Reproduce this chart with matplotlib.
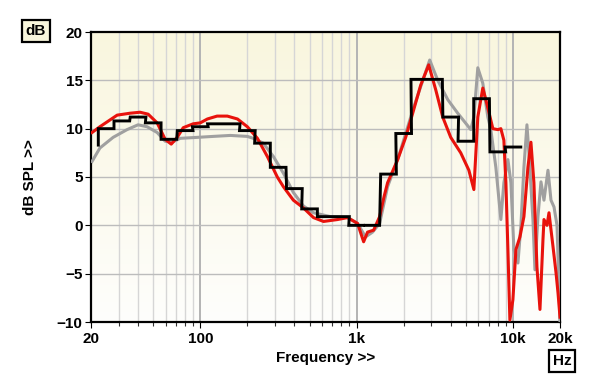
import numpy as np
import matplotlib
matplotlib.use("Agg")
import matplotlib.pyplot as plt
from matplotlib.colors import LinearSegmentedColormap

plt.rcParams['font.family'] = ['Liberation Sans', 'DejaVu Sans']

# ---- data ----
red_f = [20.3, 22.8, 29.4, 35.6, 41.2, 46.4, 53, 59.6, 65.2, 71.2, 77.8, 90, 100, 111, 128, 149, 173, 200,
         232, 269, 311, 340, 394, 457, 530, 614, 755, 875, 1014, 1109, 1175, 1285, 1404, 1500, 1578, 1831,
         2060, 2285, 2570, 2892, 3210, 3556, 4000, 4635, 5225, 5625, 5960, 6415, 6709, 7440, 8008, 8370,
         8750, 9013, 9285, 9560, 9995, 10450, 11085, 11755, 12470, 13035, 13620, 14240, 14890, 15560,
         15795, 16510, 17005, 18040, 18860, 19425, 20000]
red_db = [9.6, 10.2, 11.4, 11.6, 11.7, 11.5, 10.6, 8.9, 8.4, 9.1, 10.1, 10.5, 10.6, 11.0, 11.3, 11.3, 11.0, 10.2,
          9.0, 7.1, 5.0, 4.0, 2.6, 1.8, 0.8, 0.4, 0.6, 0.8, 0.2, -1.7, -0.7, -0.5, 0.9, 3.0, 4.4, 6.8,
          9.1, 11.6, 14.5, 16.6, 14.0, 11.2, 9.1, 7.5, 5.7, 3.7, 11.2, 14.2, 13.0, 10.0, 9.9, 10.0,
          8.8, 4.4, -2.5, -9.8, -7.7, -2.5, -1.2, 0.9, 6.0, 8.6, 4.4, -4.3, -8.7, -1.5,
          0.6, 0.0, 1.3, -2.2, -4.9, -7.0, -9.5]

gray_f = [20.3, 22.8, 27.7, 34, 40, 45.7, 53, 59.6, 66, 74.4, 95.6, 121, 155.6, 200, 218, 253, 294, 340,
          394, 457, 530, 681, 875, 1014, 1141, 1265, 1404, 1578, 1831, 2318, 2935, 3305, 3830, 4435,
          5375, 5625, 5960, 6415, 6910, 7222, 7775, 8370, 8750, 9285, 9706, 10145, 10765, 11247, 11755,
          12290, 12655, 13425, 13825, 14455, 15110, 15795, 16755, 17515, 18310, 19140, 19700, 20000]
gray_db = [6.6, 8.0, 9.1, 9.9, 10.4, 10.2, 9.6, 8.7, 8.6, 9.0, 9.1, 9.2, 9.3, 9.2, 9.0, 8.5, 7.1, 5.4,
           3.4, 2.0, 1.3, 0.9, 0.8, 0.2, -1.2, -0.7, 0.2, 4.0, 6.8, 12.2, 17.1, 15.0, 13.0, 11.6,
           9.9, 11.2, 16.3, 14.7, 11.2, 9.9, 6.0, 0.6, 4.4, 6.8, 4.4, -2.5, -3.9, 0.0, 6.0,
           10.4, 7.5, 0.6, -4.6, 0.9, 4.5, 2.6, 5.7, 2.6, 1.9, 0.0, -6.4, -10.0]

band_centers = [25, 31.5, 40, 50, 63, 80, 100, 125, 160, 200, 250, 315, 400, 500, 630, 800,
                1000, 1250, 1600, 2000, 2500, 3150, 4000, 5000, 6300, 8000, 10000]
band_db = [10.0, 10.8, 11.2, 10.6, 8.9, 9.8, 10.2, 10.5, 10.5, 9.8, 8.5, 6.0, 3.8, 1.7, 0.9, 0.9,
           0.0, 0.0, 5.3, 9.5, 15.1, 15.1, 11.2, 8.7, 13.1, 7.6, 8.1]
band_start_db = 8.3

xtick_vals = [20, 100, 1000, 10000, 20000]
xtick_labels = ['20', '100', '1k', '10k', '20k']
ytick_vals = [-10, -5, 0, 5, 10, 15, 20]

# ---- figure ----
fig = plt.figure(figsize=(6.0, 3.87), dpi=100)
ax = fig.add_axes([91/600, 65/387, 469/600, 290/387])
ax.set_xscale('log')
ax.set_xlim(20, 20000)
ax.set_ylim(-10, 20)

# background gradient
cmap = LinearSegmentedColormap.from_list('bg', ['#fefefc', '#f9f6de'])
grad = np.linspace(0, 1, 256).reshape(-1, 1)
ax.imshow(grad, cmap=cmap, aspect='auto', origin='lower',
          extent=[0, 1, 0, 1], transform=ax.transAxes, zorder=0)

# grid
minor = []
for dec in [10, 100, 1000, 10000]:
    for m in range(1, 10):
        v = dec * m
        if 20 <= v <= 20000:
            minor.append(v)
for v in minor:
    if v in (100, 1000, 10000):
        ax.axvline(v, color='#b4b4b4', lw=1.4, zorder=1)
    elif v not in (20, 20000):
        ax.axvline(v, color='#d6d6d6', lw=1.0, zorder=1)
for y in ytick_vals[1:-1]:
    ax.axhline(y, color='#bcbcbc', lw=1.0, zorder=1)

# curves
ax.plot(gray_f, gray_db, color='#a0a0a0', lw=2.2, zorder=3, solid_joinstyle='round')
ax.plot(red_f, red_db, color='#e8120c', lw=2.2, zorder=4, solid_joinstyle='round')

# step curve (third-octave bands)
c = np.array(band_centers, dtype=float)
lo = c * 2 ** (-1 / 6)
hi = c * 2 ** (1 / 6)
xs = [lo[0]]
ys = [band_start_db]
for l, h, v in zip(lo, hi, band_db):
    xs += [l, h]
    ys += [v, v]
ax.plot(xs, ys, color='black', lw=2.1, zorder=5, solid_joinstyle='miter')

# ticks
ax.set_xticks(xtick_vals)
ax.set_xticklabels(xtick_labels)
ax.set_xticks([v for v in minor if v not in xtick_vals], minor=True)
ax.tick_params(axis='x', which='minor', length=3, width=0.8, color='#333333')
ax.tick_params(axis='x', which='major', length=4, width=0.8, pad=3)
ax.set_yticks(ytick_vals)
ax.tick_params(axis='y', which='major', length=4, width=0.8, pad=2)
for lab in ax.get_xticklabels() + ax.get_yticklabels():
    lab.set_fontweight('bold')
    lab.set_fontsize(11)
for s in ax.spines.values():
    s.set_linewidth(1.6)
    s.set_color('black')

ax.set_xlabel('Frequency >>', fontsize=11, fontweight='bold', labelpad=4)
ax.set_ylabel('dB SPL >>', fontsize=11, fontweight='bold', labelpad=14)

box = dict(boxstyle='square,pad=0.25', fc='#f8f6dc', ec='black', lw=1.6)
fig.text(36/600, 1 - 31/387, 'dB', fontsize=11, fontweight='bold', ha='center', va='center', bbox=box)
box2 = dict(boxstyle='square,pad=0.25', fc='white', ec='black', lw=1.6)
fig.text(562/600, 1 - 361/387, 'Hz', fontsize=11, fontweight='bold', ha='center', va='center', bbox=box2)

fig.savefig('out.png', dpi=100)
